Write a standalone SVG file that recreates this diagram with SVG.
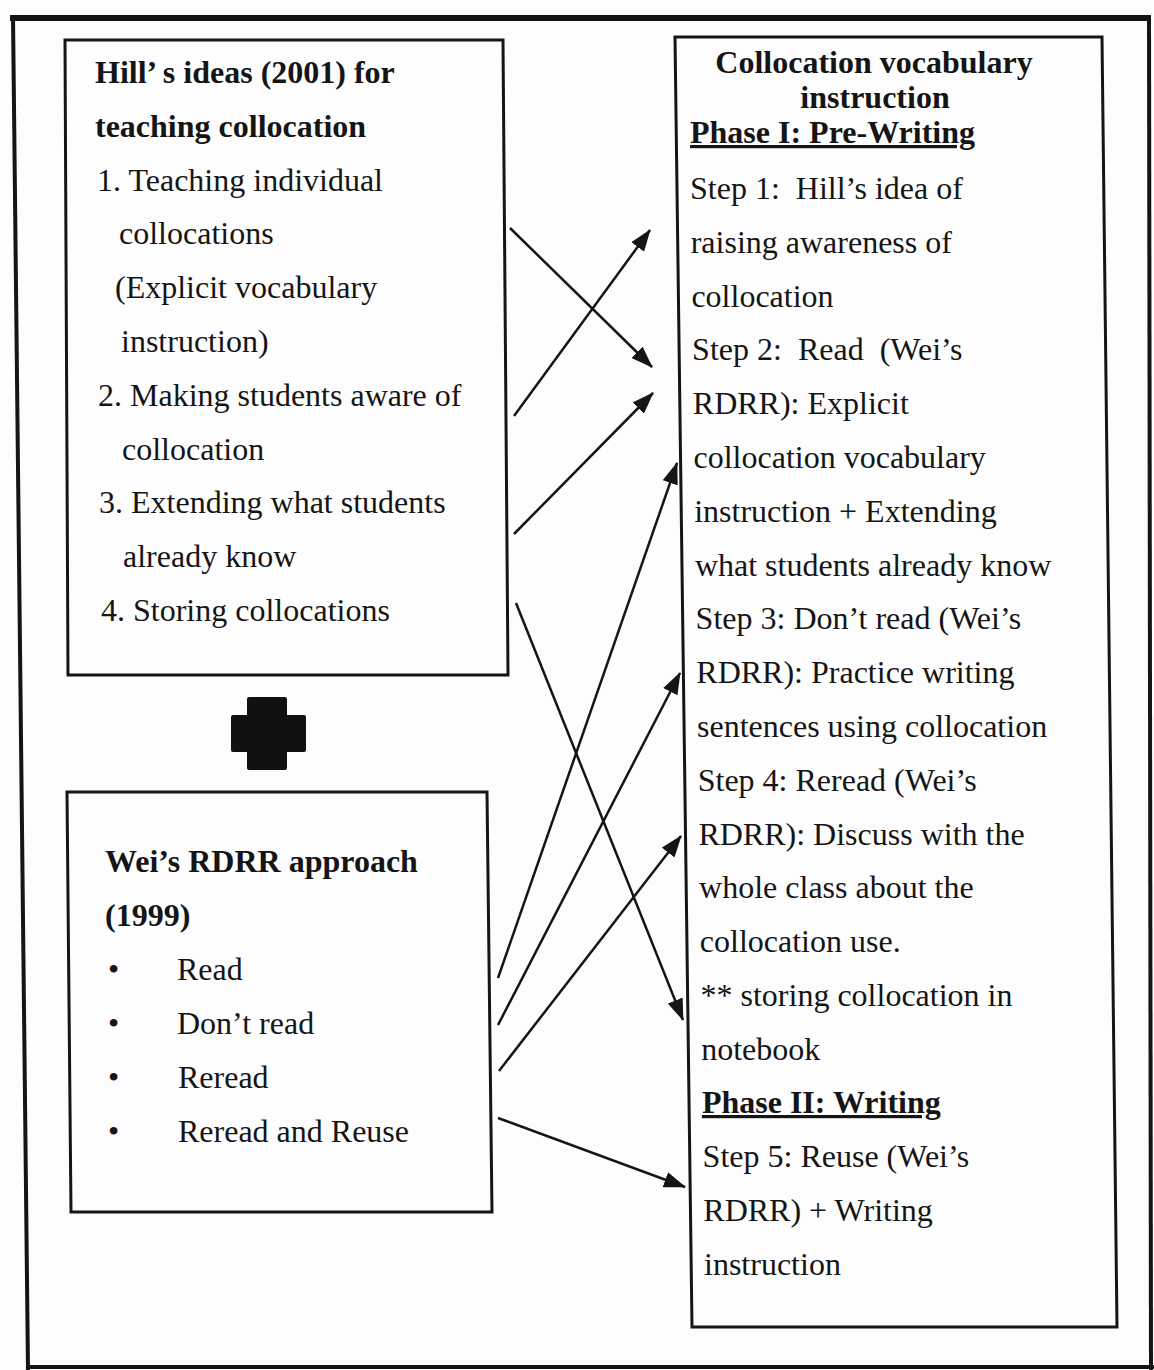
<svg xmlns="http://www.w3.org/2000/svg" width="1154" height="1370" viewBox="0 0 1154 1370">
  <style>
    text { font-family: "Liberation Serif", "Times New Roman", serif; font-size: 32px; fill: #151515; white-space: pre; }
    .b { font-weight: bold; }
    .u { text-decoration: underline; }
    .box { fill: none; stroke: #151515; stroke-width: 3; }
    .frame { fill: none; stroke: #151515; }
    .conn line { stroke: #151515; stroke-width: 2.5; marker-end: url(#ah); }
  </style>
  <defs>
    <marker id="ah" markerUnits="userSpaceOnUse" markerWidth="22" markerHeight="16" refX="21" refY="8" orient="auto">
      <path d="M0,0 L22,8 L0,16 z" fill="#151515"/>
    </marker>
  </defs>
  <rect width="1154" height="1370" fill="#fdfdfd"/>

  <g id="frame">
    <line class="frame" x1="10" y1="18" x2="1151" y2="18" stroke-width="6"/>
    <line class="frame" x1="13" y1="16" x2="28" y2="1370" stroke-width="4"/>
    <line class="frame" x1="1149" y1="16" x2="1151" y2="1370" stroke-width="4"/>
    <line class="frame" x1="26" y1="1367" x2="1154" y2="1367" stroke-width="4"/>
  </g>

  <g id="hill">
    <polygon class="box" points="65,40 503,40 508,675 68,675"/>
    <text class="b" x="95" y="83">Hill’ s ideas (2001) for</text>
    <text class="b" x="95" y="137">teaching collocation</text>
    <text x="97" y="191">1. Teaching individual</text>
    <text x="119" y="244">collocations</text>
    <text x="115" y="298">(Explicit vocabulary</text>
    <text x="121" y="352">instruction)</text>
    <text x="98" y="406">2. Making students aware of</text>
    <text x="122" y="460">collocation</text>
    <text x="99" y="513">3. Extending what students</text>
    <text x="123" y="567">already know</text>
    <text x="101" y="621">4. Storing collocations</text>
  </g>

  <g id="plus">
    <path d="M249,697 L285,697 Q287,697 287,699 L287,715 L304,715 Q306,715 306,717 L306,750 Q306,752 304,752 L287,752 L287,768 Q287,770 285,770 L249,770 Q247,770 247,768 L247,752 L233,752 Q231,752 231,750 L231,717 Q231,715 233,715 L247,715 L247,699 Q247,697 249,697 z" fill="#111"/>
  </g>

  <g id="wei">
    <polygon class="box" points="67,792 487,792 492,1212 71,1212"/>
    <text class="b" x="105" y="872">Wei’s RDRR approach</text>
    <text class="b" x="105" y="926">(1999)</text>
    <text x="108" y="980">•</text>
    <text x="177" y="980">Read</text>
    <text x="108" y="1034">•</text>
    <text x="177" y="1034">Don’t read</text>
    <text x="108" y="1088">•</text>
    <text x="178" y="1088">Reread</text>
    <text x="108" y="1142">•</text>
    <text x="178" y="1142">Reread and Reuse</text>
  </g>

  <g id="instruction">
    <polygon class="box" points="675,37 1102,37 1117,1327 692,1327"/>
    <text class="b" x="874" y="73" text-anchor="middle">Collocation vocabulary</text>
    <text class="b" x="875" y="108" text-anchor="middle">instruction</text>
    <text class="b u" x="690" y="143">Phase I: Pre-Writing</text>
    <text x="690" y="199">Step 1:  Hill’s idea of</text>
    <text x="690.7" y="253">raising awareness of</text>
    <text x="691.4" y="307">collocation</text>
    <text x="692.1" y="360">Step 2:  Read  (Wei’s</text>
    <text x="692.8" y="414">RDRR): Explicit</text>
    <text x="693.5" y="468">collocation vocabulary</text>
    <text x="694.2" y="522">instruction + Extending</text>
    <text x="694.9" y="576">what students already know</text>
    <text x="695.6" y="629">Step 3: Don’t read (Wei’s</text>
    <text x="696.3" y="683">RDRR): Practice writing</text>
    <text x="697" y="737">sentences using collocation</text>
    <text x="697.7" y="791">Step 4: Reread (Wei’s</text>
    <text x="698.4" y="845">RDRR): Discuss with the</text>
    <text x="699.1" y="898">whole class about the</text>
    <text x="699.8" y="952">collocation use.</text>
    <text x="700.5" y="1006">** storing collocation in</text>
    <text x="701.2" y="1060">notebook</text>
    <text class="b u" x="701.9" y="1113">Phase II: Writing</text>
    <text x="702.6" y="1167">Step 5: Reuse (Wei’s</text>
    <text x="703.3" y="1221">RDRR) + Writing</text>
    <text x="704" y="1275">instruction</text>
  </g>

  <g id="connectors" class="conn">
    <line x1="510" y1="228" x2="652" y2="367"/>
    <line x1="514" y1="416" x2="650" y2="230"/>
    <line x1="514" y1="534" x2="653" y2="393"/>
    <line x1="516" y1="603" x2="683" y2="1020"/>
    <line x1="498" y1="978" x2="677" y2="463"/>
    <line x1="498" y1="1025" x2="680" y2="673"/>
    <line x1="499" y1="1071" x2="681" y2="836"/>
    <line x1="498" y1="1118" x2="685" y2="1187"/>
  </g>
</svg>
